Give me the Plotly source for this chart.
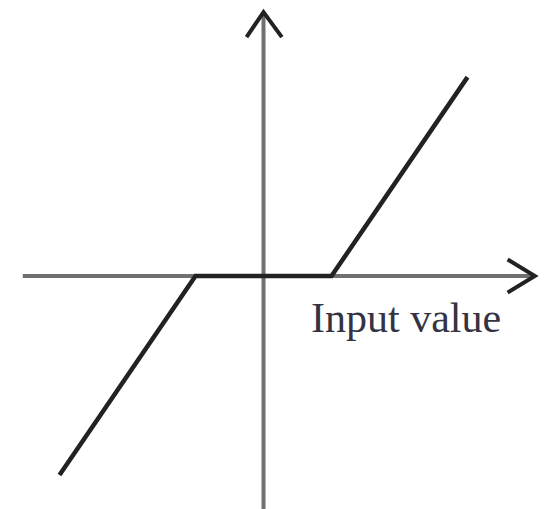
import plotly.graph_objects as go

# Soft-threshold function data
input_values = [-3.0, -1.0, 1.0, 3.0]
output_values = [-3.0, 0.0, 0.0, 3.0]

# Axis extents (data units)
x_axis_ext = [-3.54, 3.99]
y_axis_ext = [-3.65, 3.98]
axis_label = "Input value"

# plot ranges
x_range = [-3.875, 4.316]
y_range = [-3.514, 4.163]

axis_color = "#707070"
line_color = "#222222"

fig = go.Figure()

# horizontal axis
fig.add_trace(go.Scatter(x=x_axis_ext, y=[0, 0], mode="lines",
                         line=dict(color=axis_color, width=4), hoverinfo="skip"))
# vertical axis
fig.add_trace(go.Scatter(x=[0, 0], y=y_axis_ext, mode="lines",
                         line=dict(color=axis_color, width=4), hoverinfo="skip"))

# arrowheads (open chevrons) at the axis ends
xe = x_axis_ext[1]
ye = y_axis_ext[1]
fig.add_trace(go.Scatter(x=[xe - 0.40, xe, xe - 0.40], y=[0.25, 0, -0.25], mode="lines",
                         line=dict(color=line_color, width=4), hoverinfo="skip"))
fig.add_trace(go.Scatter(x=[-0.25, 0, 0.27], y=[ye - 0.377, ye, ye - 0.377], mode="lines",
                         line=dict(color=line_color, width=4), hoverinfo="skip"))

# function
fig.add_trace(go.Scatter(x=input_values, y=output_values, mode="lines",
                         line=dict(color=line_color, width=4.5), hoverinfo="skip"))

fig.add_annotation(x=0.67, y=-0.633, text=axis_label, showarrow=False,
                   xanchor="left", yanchor="middle",
                   font=dict(family="Liberation Serif", size=42, color="#333344"))

fig.update_layout(
    width=557, height=509,
    margin=dict(l=0, r=0, t=0, b=0),
    paper_bgcolor="white", plot_bgcolor="white",
    showlegend=False,
    xaxis=dict(range=x_range, visible=False, fixedrange=True),
    yaxis=dict(range=y_range, visible=False, fixedrange=True),
)

fig.write_html("out.html", config={"displayModeBar": False},
               post_script="document.body.style.margin='0px';document.body.style.overflow='hidden';")
